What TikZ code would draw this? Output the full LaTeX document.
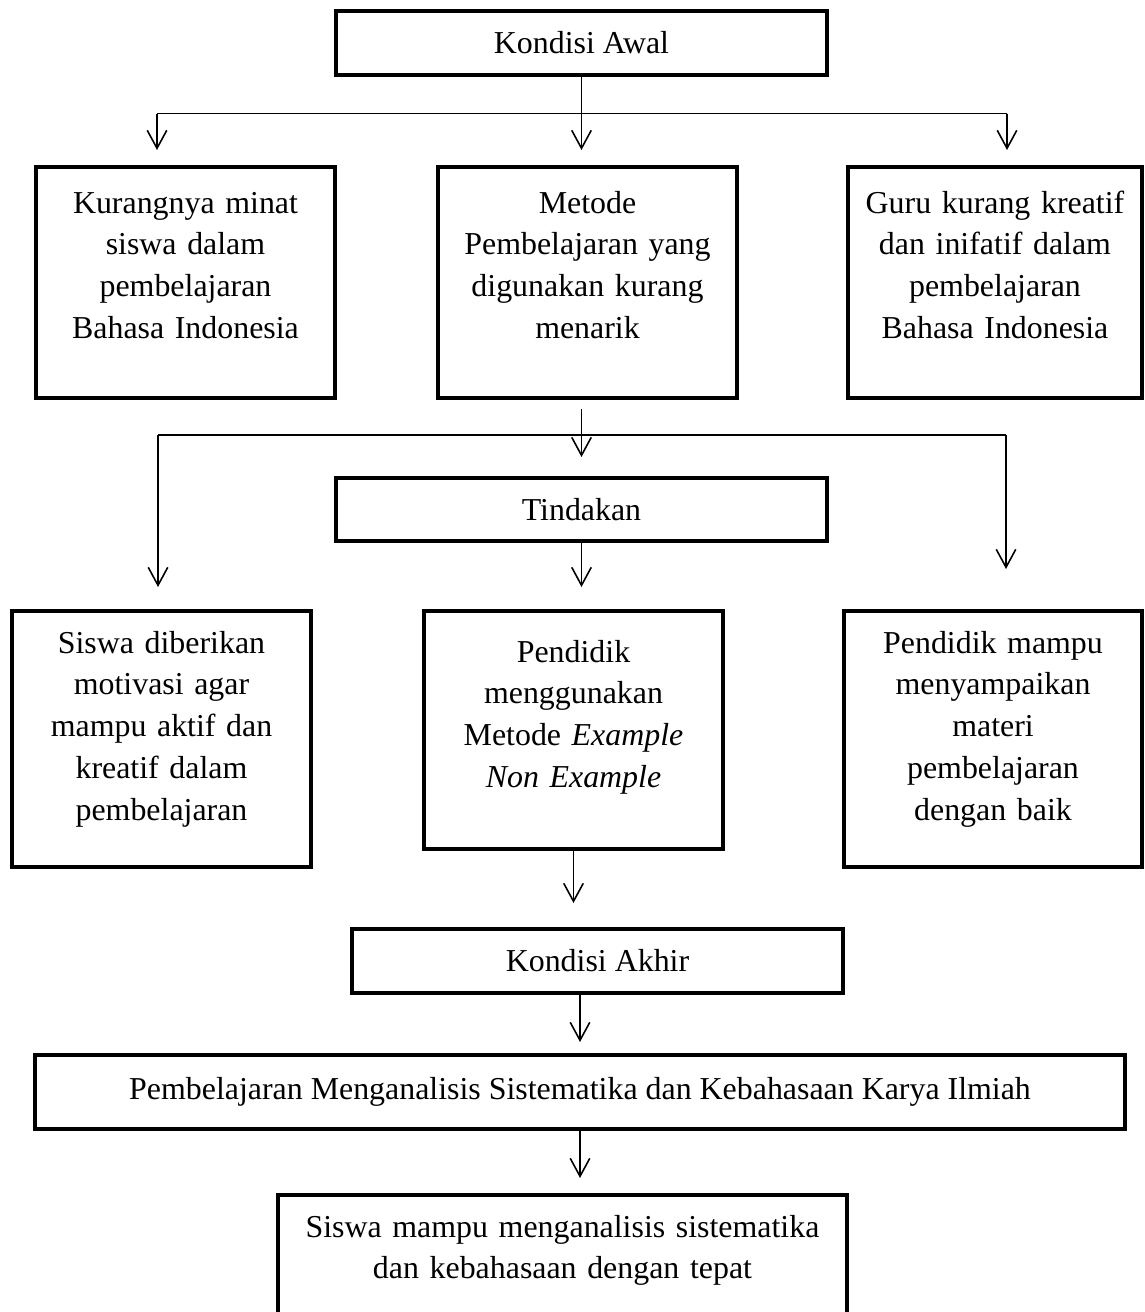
\documentclass[tikz,border=0pt]{standalone}
\usepackage{fontspec}
\setmainfont{Liberation Serif}
\usetikzlibrary{arrows.meta}

\begin{document}
\begin{tikzpicture}[
    font=\fontsize{18.15}{23.8}\selectfont,
    boite/.style={draw, line width=2.2pt, outer sep=0pt, inner sep=0pt, align=center},
    haut/.style={boite, anchor=north, text width=5.98cm, text height=0.92cm, text depth=3.70cm},
    fleche/.style={line width=0.9pt, -{Straight Barb[length=3.6mm, width=3.9mm]}},
    trait/.style={line width=0.9pt}
  ]

        \useasboundingbox (0, 0) rectangle (22.88, -26.24);

        % Les boites du haut
        \node[boite, minimum width=9.82cm, minimum height=1.28cm] (awal) at (11.63, -0.86) {Kondisi Awal};
        \node[haut] (minat) at (3.71, -3.34) {Kurangnya minat\\ siswa dalam\\ pembelajaran\\ Bahasa Indonesia};
        \node[haut] (metode) at (11.75, -3.34) {Metode\\ Pembelajaran yang\\ digunakan kurang\\ menarik};
        \node[haut, text width=5.88cm] (guru) at (19.90, -3.34) {Guru kurang kreatif\\ dan inifatif dalam\\ pembelajaran\\ Bahasa Indonesia};

        % Les boites du milieu
        \node[boite, minimum width=9.82cm, minimum height=1.26cm] (tindakan) at (11.63, -10.19) {Tindakan};
        \node[haut, text height=0.84cm, text depth=4.28cm] (siswa) at (3.23, -12.22) {Siswa diberikan\\ motivasi agar\\ mampu aktif dan\\ kreatif dalam\\ pembelajaran};
        \node[haut, text height=1.02cm, text depth=3.74cm] (pendidik) at (11.47, -12.22) {Pendidik\\ menggunakan\\ Metode \textit{Example}\\ \textit{Non Example}};
        \node[haut, text width=5.96cm, text height=0.84cm, text depth=4.28cm] (mampu) at (19.86, -12.22) {Pendidik mampu\\ menyampaikan\\ materi\\ pembelajaran\\ dengan baik};

        % Les boites du bas
        \node[boite, minimum width=9.82cm, minimum height=1.28cm] (akhir) at (11.95, -19.22) {Kondisi Akhir};
        \node[boite, minimum width=21.80cm, minimum height=1.48cm] (pembelajaran) at (11.60, -21.84) {Pembelajaran Menganalisis Sistematika dan Kebahasaan Karya Ilmiah};
        \node[haut, text width=11.38cm, text height=0.84cm, text depth=2.16cm] (hasil) at (11.25, -23.90) {Siswa mampu menganalisis sistematika\\ dan kebahasaan dengan tepat};

        % Premiere fourche
        \coordinate (g1) at (3.14, -2.27);
        \coordinate (d1) at (20.14, -2.27);
        \draw[trait] (g1) -- (d1);
        \draw[fleche, shorten >=3.4mm] (awal.south) -- (awal.south |- metode.north);
        \draw[fleche, shorten >=3.4mm] (g1) -- (g1 |- minat.north);
        \draw[fleche, shorten >=3.4mm] (d1) -- (d1 |- guru.north);

        % Deuxieme fourche
        \coordinate (g2) at (3.16, -8.70);
        \coordinate (d2) at (20.12, -8.70);
        \draw[trait] (g2) -- (d2);
        \draw[fleche, shorten <=2.2mm, shorten >=4.2mm] (tindakan.north |- metode.south) -- (tindakan.north);
        \draw[fleche, shorten >=4.8mm] (g2) -- (g2 |- siswa.north);
        \draw[fleche, shorten >=8.4mm] (d2) -- (d2 |- mampu.north);

        % Fleches vers le bas
        \draw[fleche, shorten >=4.8mm] (tindakan.south) -- (tindakan.south |- pendidik.north);
        \draw[fleche, shorten >=5.2mm] (pendidik.south) -- (pendidik.south |- akhir.north);
        \draw[fleche, shorten >=2.6mm] (pembelajaran.north |- akhir.south) -- (pembelajaran.north);
        \draw[fleche, shorten >=3.4mm] (pembelajaran.south) -- (pembelajaran.south |- hasil.north);

    \end{tikzpicture}
\end{document}
